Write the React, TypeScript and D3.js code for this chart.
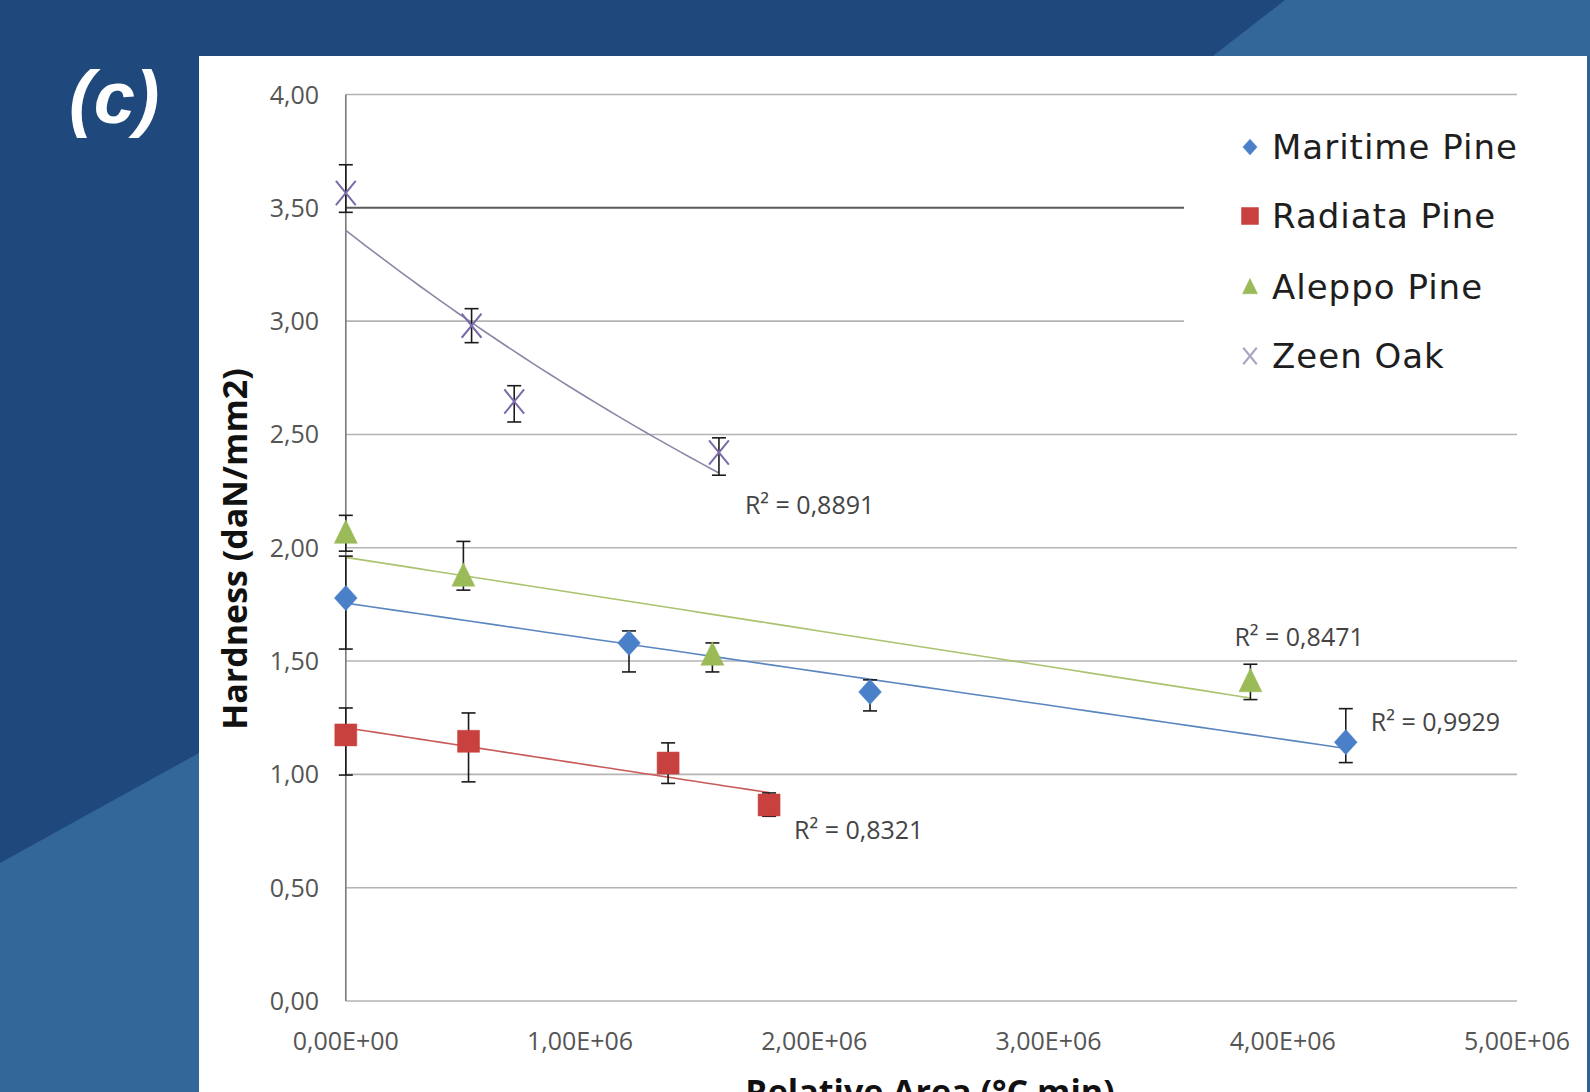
import React from 'react';
import * as d3 from 'd3';

// Axis ticks
const xTicks = [0, 1e6, 2e6, 3e6, 4e6, 5e6];
const xTickLabels = ['0,00E+00', '1,00E+06', '2,00E+06', '3,00E+06', '4,00E+06', '5,00E+06'];
const yTicks = [0, 0.5, 1, 1.5, 2, 2.5, 3, 3.5, 4];
const yTickLabels = ['0,00', '0,50', '1,00', '1,50', '2,00', '2,50', '3,00', '3,50', '4,00'];

// Maritime Pine
const maritimeX = [0, 1.209e6, 2.238e6, 4.269e6];
const maritimeY = [1.778, 1.58, 1.364, 1.142];
const maritimeErrUp = [0.185, 0.053, 0.053, 0.148];
const maritimeErrDown = [0.225, 0.128, 0.084, 0.09];

// Radiata Pine
const radiataX = [0, 0.524e6, 1.376e6, 1.807e6];
const radiataY = [1.174, 1.146, 1.05, 0.865];
const radiataErrUp = [0.119, 0.125, 0.089, 0.053];
const radiataErrDown = [0.177, 0.179, 0.09, 0.05];

// Aleppo Pine
const aleppoX = [0, 0.502e6, 1.565e6, 3.862e6];
const aleppoY = [2.065, 1.876, 1.527, 1.41];
const aleppoErrUp = [0.078, 0.152, 0.053, 0.076];
const aleppoErrDown = [0.08, 0.063, 0.075, 0.08];

// Zeen Oak
const zeenX = [0, 0.537e6, 0.719e6, 1.593e6];
const zeenY = [3.565, 2.98, 2.645, 2.42];
const zeenErrUp = [0.125, 0.075, 0.07, 0.065];
const zeenErrDown = [0.085, 0.075, 0.09, 0.1];

const seriesNames = ['Maritime Pine', 'Radiata Pine', 'Aleppo Pine', 'Zeen Oak'];
const r2Labels = ['R² = 0,9929', 'R² = 0,8321', 'R² = 0,8471', 'R² = 0,8891'];
const trendKinds = ['linear', 'linear', 'linear', 'exp'];

const W = 1590;
const H = 1092;

const styles = [
  { color: '#4a80c8', trend: '#5a86c0', marker: 'diamond', size: 24, r2dx: 25, r2dy: -20 },
  { color: '#c8413f', trend: '#c85a57', marker: 'square', size: 22, r2dx: 25, r2dy: 25 },
  { color: '#9bbb59', trend: '#aac36e', marker: 'triangle', size: 23, r2dx: -16, r2dy: -44 },
  { color: '#7b6aa8', trend: '#8c86a6', marker: 'cross', size: 22, r2dx: 26, r2dy: 52 },
];

type Pt = { x: number; y: number; up: number; down: number };

function makeSeries(xs: number[], ys: number[], up: number[], down: number[]): Pt[] {
  return xs.map((x, i) => ({ x, y: ys[i], up: up[i], down: down[i] }));
}

const allSeries: Pt[][] = [
  makeSeries(maritimeX, maritimeY, maritimeErrUp, maritimeErrDown),
  makeSeries(radiataX, radiataY, radiataErrUp, radiataErrDown),
  makeSeries(aleppoX, aleppoY, aleppoErrUp, aleppoErrDown),
  makeSeries(zeenX, zeenY, zeenErrUp, zeenErrDown),
];

// least-squares fit; exponential fits ln(y) linearly
function fitTrend(pts: Pt[], kind: string): (x: number) => number {
  const xs = pts.map((p) => p.x);
  const ys = pts.map((p) => (kind === 'exp' ? Math.log(p.y) : p.y));
  const mx = d3.mean(xs) as number;
  const my = d3.mean(ys) as number;
  let sxy = 0;
  let sxx = 0;
  xs.forEach((x, i) => {
    sxy += (x - mx) * (ys[i] - my);
    sxx += (x - mx) * (x - mx);
  });
  const b = sxy / sxx;
  const a = my - b * mx;
  return kind === 'exp' ? (x) => Math.exp(a + b * x) : (x) => a + b * x;
}

function markerPath(kind: string, s: number): string {
  const h = s / 2;
  if (kind === 'diamond') return `M0,${-h * 1.05}L${h * 0.95},0L0,${h * 1.05}L${-h * 0.95},0Z`;
  if (kind === 'square') return `M${-h},${-h}H${h}V${h}H${-h}Z`;
  if (kind === 'triangle') return `M0,${-h * 1.15}L${h},${h * 0.9}L${-h},${h * 0.9}Z`;
  return `M${-h * 0.9},${-h * 1.1}L${h * 0.9},${h * 1.1}M${h * 0.9},${-h * 1.1}L${-h * 0.9},${h * 1.1}`;
}

function Marker({ kind, color, size, x, y }: { kind: string; color: string; size: number; x: number; y: number }) {
  const d = markerPath(kind, size);
  if (kind === 'cross') {
    return <path d={d} transform={`translate(${x},${y})`} stroke={color} strokeWidth={2} fill="none" />;
  }
  return <path d={d} transform={`translate(${x},${y})`} fill={color} stroke={color} strokeWidth={0.5} />;
}

export default function App() {
  const x = d3.scaleLinear().domain([0, 5e6]).range([345.8, 1517]);
  const y = d3.scaleLinear().domain([0, 4]).range([1001, 94.5]);

  const tickFont = "'Open Sans', 'Liberation Sans', sans-serif";
  const lineGen = d3
    .line<number>()
    .x((d) => x(d))
    .curve(d3.curveLinear);

  const legendRows = [147, 216, 287, 356];

  return (
    <svg
      width={W}
      height={H}
      viewBox={`0 0 ${W} ${H}`}
      style={{ position: 'absolute', left: 0, top: 0, display: 'block' }}
    >
      {/* slide background */}
      <rect x={0} y={0} width={W} height={H} fill="#1f497c" />
      <polygon points="1285,0 1590,0 1590,56 1213,56" fill="#336799" />
      <polygon points="0,863 199,753 199,1092 0,1092" fill="#336799" />
      <rect x={199} y={56} width={1388} height={H - 56} fill="#ffffff" />
      <rect x={1587} y={56} width={3} height={H - 56} fill="#2f6397" />

      <text
        x={69}
        y={123}
        fill="#ffffff"
        fontFamily="'Liberation Sans', Arial, sans-serif"
        fontWeight={700}
        fontStyle="italic"
        fontSize={74}
      >
        (c)
      </text>

      {/* horizontal gridlines */}
      {yTicks.map((t) => (
        <line
          key={`g${t}`}
          x1={x(0)}
          x2={x(5e6)}
          y1={y(t)}
          y2={y(t)}
          stroke={t === 3.5 ? '#5a5a5a' : '#b4b4b4'}
          strokeWidth={t === 3.5 ? 2 : 1.6}
        />
      ))}

      {/* legend area sits over the gridlines */}
      <rect x={1184} y={112} width={340} height={286} fill="#ffffff" />

      {/* vertical axis */}
      <line x1={x(0)} x2={x(0)} y1={y(4)} y2={y(0)} stroke="#7a7a7a" strokeWidth={1.6} />

      {/* y tick labels */}
      {yTicks.map((t, i) => (
        <text
          key={`yl${t}`}
          x={319}
          y={y(t)}
          dy="0.36em"
          textAnchor="end"
          fontFamily={tickFont}
          fontSize={25}
          fill="#555555"
        >
          {yTickLabels[i]}
        </text>
      ))}

      {/* x tick labels */}
      {xTicks.map((t, i) => (
        <text
          key={`xl${t}`}
          x={x(t)}
          y={1050}
          textAnchor="middle"
          fontFamily={tickFont}
          fontSize={25}
          fill="#555555"
        >
          {xTickLabels[i]}
        </text>
      ))}

      {/* axis titles */}
      <text
        transform="translate(247,549) rotate(-90)"
        textAnchor="middle"
        fontFamily={tickFont}
        fontWeight={700}
        fontSize={34}
        fill="#111111"
      >
        Hardness (daN/mm2)
      </text>
      <text
        x={930}
        y={1104}
        textAnchor="middle"
        fontFamily={tickFont}
        fontWeight={700}
        fontSize={34}
        fill="#111111"
      >
        Relative Area (°C min)
      </text>

      {/* trendlines */}
      {allSeries.map((pts, si) => {
        const f = fitTrend(pts, trendKinds[si]);
        const xMax = d3.max(pts, (p) => p.x) as number;
        const samples = d3.range(0, 41).map((k) => (xMax * k) / 40);
        const path = lineGen.y((d) => y(f(d)))(samples) || '';
        return <path key={`t${si}`} d={path} fill="none" stroke={styles[si].trend} strokeWidth={1.6} />;
      })}

      {/* error bars */}
      {allSeries.map((pts, si) =>
        pts.map((p, i) => {
          const cx = x(p.x);
          const yt = y(p.y + p.up);
          const yb = y(p.y - p.down);
          return (
            <g key={`e${si}-${i}`} stroke="#1a1a1a" strokeWidth={1.6}>
              <line x1={cx} x2={cx} y1={yt} y2={yb} />
              <line x1={cx - 7} x2={cx + 7} y1={yt} y2={yt} />
              <line x1={cx - 7} x2={cx + 7} y1={yb} y2={yb} />
            </g>
          );
        })
      )}

      {/* markers */}
      {allSeries.map((pts, si) =>
        pts.map((p, i) => (
          <Marker
            key={`m${si}-${i}`}
            kind={styles[si].marker}
            color={styles[si].color}
            size={styles[si].size}
            x={x(p.x)}
            y={y(p.y)}
          />
        ))
      )}

      {/* R² annotations next to the last point of each series */}
      {allSeries.map((pts, si) => {
        const last = pts[pts.length - 1];
        return (
          <text
            key={`r${si}`}
            x={x(last.x) + styles[si].r2dx}
            y={y(last.y) + styles[si].r2dy}
            dy="0.36em"
            fontFamily={tickFont}
            fontSize={25}
            fill="#444444"
          >
            {r2Labels[si]}
          </text>
        );
      })}

      {/* legend */}
      {seriesNames.map((name, si) => (
        <g key={`lg${si}`}>
          <Marker
            kind={styles[si].marker}
            color={si === 3 ? '#a9a4c4' : styles[si].color}
            size={si === 1 ? 17 : 15}
            x={1250}
            y={legendRows[si]}
          />
          <text
            x={1272}
            y={legendRows[si]}
            dy="0.36em"
            fontFamily="'DejaVu Sans', sans-serif"
            fontSize={34}
            letterSpacing={1}
            fill="#1e1e1e"
          >
            {name}
          </text>
        </g>
      ))}
    </svg>
  );
}
